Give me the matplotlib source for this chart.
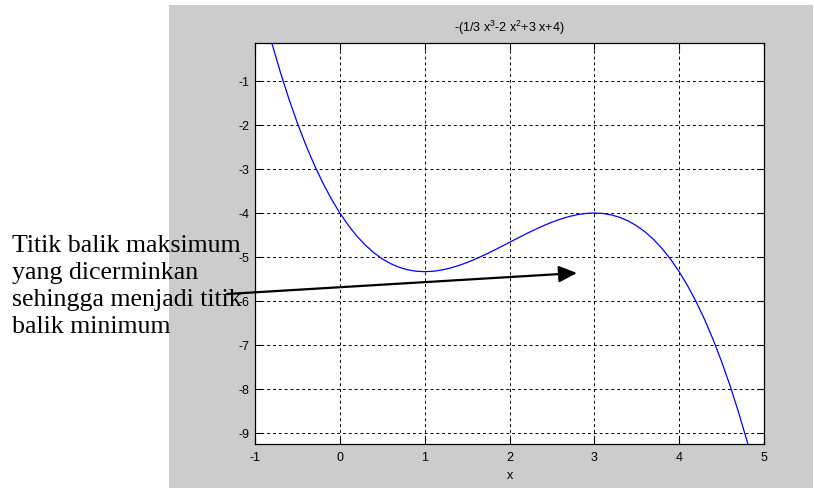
import matplotlib
matplotlib.use("Agg")
import matplotlib.pyplot as plt
from matplotlib.patches import Rectangle, FancyArrowPatch

plt.rcParams['font.family'] = ['Liberation Sans', 'DejaVu Sans']
plt.rcParams['mathtext.default'] = 'regular'
plt.rcParams['axes.unicode_minus'] = False

# values
x_vals = [-1.0, -0.9, -0.8, -0.7, -0.6, -0.5, -0.4, -0.3, -0.2, -0.1,
          0.0, 0.1, 0.2, 0.3, 0.4, 0.5, 0.6, 0.7, 0.8, 0.9,
          1.0, 1.1, 1.2, 1.3, 1.4, 1.5, 1.6, 1.7, 1.8, 1.9,
          2.0, 2.1, 2.2, 2.3, 2.4, 2.5, 2.6, 2.7, 2.8, 2.9,
          3.0, 3.1, 3.2, 3.3, 3.4, 3.5, 3.6, 3.7, 3.8, 3.9,
          4.0, 4.1, 4.2, 4.3, 4.4, 4.5, 4.6, 4.7, 4.8, 4.9, 5.0]
y_vals = [1.333, 0.563, -0.149, -0.806, -1.408, -1.958, -2.459, -2.911, -3.317, -3.680,
          -4.000, -4.280, -4.523, -4.729, -4.901, -5.042, -5.152, -5.234, -5.291, -5.323,
          -5.333, -5.324, -5.296, -5.252, -5.195, -5.125, -5.045, -4.958, -4.864, -4.766,
          -4.667, -4.567, -4.469, -4.376, -4.288, -4.208, -4.139, -4.081, -4.037, -4.010,
          -4.000, -4.010, -4.043, -4.099, -4.181, -4.292, -4.432, -4.604, -4.811, -5.053,
          -5.333, -5.654, -6.016, -6.422, -6.875, -7.375, -7.925, -8.528, -9.184, -9.896, -10.667]
x_ticks = [-1, 0, 1, 2, 3, 4, 5]
y_ticks = [-9, -8, -7, -6, -5, -4, -3, -2, -1]
title = r'-(1/3 x$^3$-2 x$^2$+3 x+4)'
note = "Titik balik maksimum\nyang dicerminkan\nsehingga menjadi titik\nbalik minimum"

W, H = 814, 493
fig = plt.figure(figsize=(W / 100, H / 100), dpi=100, facecolor='white')

# grey matlab figure area
fig.patches.append(Rectangle((169 / W, 1 - 488 / H), (813 - 169) / W, (488 - 5) / H,
                             transform=fig.transFigure, facecolor='#cccccc',
                             edgecolor='none', zorder=-1))

ax = fig.add_axes([255 / W, 1 - 444 / H, (764 - 255) / W, (444 - 43) / H])
ax.plot(x_vals, y_vals, color='#0000ff', linewidth=0.9)
ax.set_xlim(-1, 5)
ax.set_ylim(-9.25, -0.136)
ax.set_xticks(x_ticks)
ax.set_yticks(y_ticks)
ax.tick_params(direction='in', length=5, width=0.8, labelsize=9, pad=4,
               top=True, right=True)
ax.tick_params(axis='x', pad=6)
ax.grid(True, color='black', linestyle=(0, (3, 3)), linewidth=0.7)
for s in ax.spines.values():
    s.set_linewidth(0.9)
ax.set_title(title, fontsize=9, pad=8)
ax.set_xlabel('x', fontsize=9, labelpad=4)

fig.text(12 / W, 1 - 235 / H, note, family=['Liberation Serif', 'DejaVu Serif'],
         fontsize=18.6, va='top', ha='left', linespacing=1.3, zorder=5)

arr = FancyArrowPatch((227 / W, 1 - 294 / H), (577 / W, 1 - 273 / H),
                      transform=fig.transFigure,
                      arrowstyle='-|>,head_length=1.1,head_width=0.5',
                      mutation_scale=10, linewidth=1.6, color='black',
                      shrinkA=0, shrinkB=0, zorder=6)
fig.patches.append(arr)

fig.savefig('out.png', dpi=100, facecolor='white')
